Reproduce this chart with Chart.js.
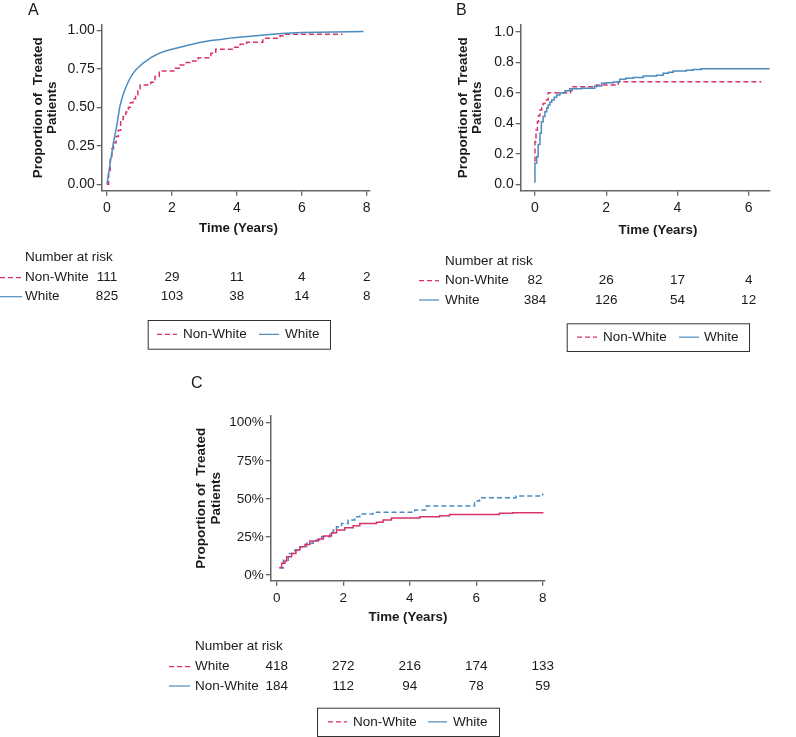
<!DOCTYPE html>
<html><head><meta charset="utf-8">
<script src="https://cdn.jsdelivr.net/npm/chart.js@4.4.1/dist/chart.umd.min.js"></script>
<style>
html,body{margin:0;padding:0;background:#fff;}
#wrap{position:relative;width:796px;height:737px;overflow:hidden;}
canvas{position:absolute;left:0;top:0;pointer-events:none;}
</style></head><body>
<div id="wrap">
<canvas id="cA" width="796" height="737"></canvas>
<canvas id="cB" width="796" height="737"></canvas>
<canvas id="cC" width="796" height="737"></canvas>
</div>
<script>
// ---------- Panel A ----------
const aWhiteT   = [0, 0.1, 0.2, 0.3, 0.4, 0.5, 0.6, 0.7, 0.8, 0.9, 1.0, 1.1, 1.2, 1.4, 1.6, 1.8, 2.0, 2.25, 2.5, 2.85, 3.2, 3.5, 3.9, 4.5, 5.1, 5.5, 6.0, 7.0, 7.9];
const aWhiteP   = [0, 0.14, 0.27, 0.38, 0.51, 0.585, 0.64, 0.685, 0.72, 0.745, 0.765, 0.785, 0.8, 0.828, 0.85, 0.865, 0.876, 0.89, 0.902, 0.92, 0.933, 0.94, 0.952, 0.963, 0.974, 0.98, 0.985, 0.989, 0.991];
const aNonWhiteT = [0, 0.05, 0.1, 0.15, 0.2, 0.28, 0.35, 0.42, 0.5, 0.58, 0.66, 0.72, 0.8, 0.88, 0.95, 1.02, 1.35, 1.48, 1.61, 2.1, 2.25, 2.4, 2.56, 2.81, 3.2, 3.35, 3.9, 4.1, 4.3, 4.8, 5.33, 5.43, 7.25];
const aNonWhiteP = [0, 0.09, 0.18, 0.23, 0.27, 0.31, 0.35, 0.42, 0.44, 0.47, 0.5, 0.53, 0.555, 0.58, 0.62, 0.645, 0.662, 0.70, 0.736, 0.753, 0.775, 0.79, 0.80, 0.822, 0.85, 0.877, 0.89, 0.909, 0.922, 0.948, 0.965, 0.974, 0.974];
const aXTicks = [0, 2, 4, 6, 8];
const aYTicks = [0, 0.25, 0.5, 0.75, 1];
const aYTickLabels = ['0.00', '0.25', '0.50', '0.75', '1.00'];
const aRiskNonWhite = [111, 29, 11, 4, 2];
const aRiskWhite = [825, 103, 38, 14, 8];

// ---------- Panel B ----------
const bWhiteT = [0, 0, 0.05, 0.09, 0.14, 0.18, 0.23, 0.28, 0.33, 0.37, 0.42, 0.47, 0.54, 0.61, 0.7, 0.84, 0.98, 1.31, 1.68, 1.87, 2.0, 2.2, 2.38, 2.55, 2.76, 3.04, 3.41, 3.6, 3.75, 3.88, 4.25, 4.44, 4.67, 6.59];
const bWhiteP = [0.01, 0.138, 0.18, 0.26, 0.334, 0.41, 0.445, 0.476, 0.50, 0.52, 0.537, 0.552, 0.57, 0.585, 0.598, 0.613, 0.626, 0.63, 0.644, 0.662, 0.665, 0.67, 0.688, 0.695, 0.70, 0.71, 0.714, 0.727, 0.735, 0.742, 0.747, 0.753, 0.758, 0.758];
const bNonWhiteT = [0, 0, 0.03, 0.07, 0.1, 0.14, 0.19, 0.23, 0.28, 0.37, 1.0, 1.07, 1.73, 2.34, 6.36];
const bNonWhiteP = [0.15, 0.28, 0.356, 0.41, 0.45, 0.487, 0.51, 0.53, 0.552, 0.60, 0.615, 0.64, 0.65, 0.672, 0.672];
const bXTicks = [0, 2, 4, 6];
const bYTicks = [0, 0.2, 0.4, 0.6, 0.8, 1];
const bYTickLabels = ['0.0', '0.2', '0.4', '0.6', '0.8', '1.0'];
const bRiskNonWhite = [82, 26, 17, 4];
const bRiskWhite = [384, 126, 54, 12];

// ---------- Panel C ----------
const cSolidT = [0.08, 0.15, 0.25, 0.3, 0.45, 0.58, 0.7, 0.85, 1.0, 1.25, 1.4, 1.65, 1.8, 2.05, 2.3, 2.5, 3.0, 3.2, 3.45, 4.3, 4.9, 5.2, 6.7, 7.1, 8.0];
const cSolidP = [5.0, 7.7, 9.2, 12, 14.2, 16.4, 18.6, 20.1, 22.3, 23.6, 25.6, 27.8, 29.5, 31.1, 32.4, 33.9, 34.6, 36.1, 37.4, 38.3, 38.9, 39.8, 40.5, 40.9, 41.4];
const cDashT = [0.08, 0.2, 0.35, 0.55, 0.7, 0.9, 1.1, 1.35, 1.6, 1.7, 1.8, 1.95, 2.15, 2.35, 2.5, 2.9, 4.15, 4.5, 5.95, 6.1, 7.2, 8.0];
const cDashP = [4.6, 9.8, 14.2, 16.4, 18.6, 20.8, 23, 25.2, 27.4, 29.5, 31.7, 33.9, 36.1, 38.3, 40, 41.2, 42.7, 45.3, 48.6, 50.8, 51.9, 53.6];
const cXTicks = [0, 2, 4, 6, 8];
const cYTicks = [0, 25, 50, 75, 100];
const cYTickLabels = ['0%', '25%', '50%', '75%', '100%'];
const cRiskWhite = [418, 272, 216, 174, 133];
const cRiskNonWhite = [184, 112, 94, 78, 59];

// ---------- Styles ----------
const FONT = '"Liberation Sans", Arial, Helvetica, sans-serif';
const BLUE = '#4a8cc0';
const RED = '#d8336c';
const AXIS = '#666666';
const TEXT = '#1a1a1a';
const DASH = [5, 3];

function pts(t, p) { return t.map((x, i) => ({ x: x, y: p[i] })); }

const extras = {
  id: 'extras',
  afterDraw(chart, args, o) {
    const ctx = chart.ctx;
    const xs = chart.scales.x;
    ctx.save();
    ctx.fillStyle = TEXT;
    // panel letter
    ctx.font = '16px ' + FONT;
    ctx.textAlign = 'left';
    ctx.textBaseline = 'alphabetic';
    ctx.fillText(o.panel.text, o.panel.x, o.panel.y);
    // x axis title
    ctx.font = 'bold 13.3px ' + FONT;
    ctx.textAlign = 'center';
    ctx.textBaseline = 'middle';
    ctx.fillText(o.xTitle.text, o.xTitle.x, o.xTitle.y);
    // risk table
    const r = o.risk;
    ctx.font = '13.5px ' + FONT;
    ctx.textAlign = 'left';
    ctx.fillText('Number at risk', r.labelX, r.headerY);
    r.rows.forEach(row => {
      ctx.strokeStyle = row.color;
      ctx.lineWidth = 1.2;
      ctx.setLineDash(row.dash);
      ctx.beginPath();
      ctx.moveTo(r.lineX0, row.y);
      ctx.lineTo(r.lineX1, row.y);
      ctx.stroke();
      ctx.setLineDash([]);
      ctx.textAlign = 'left';
      ctx.fillText(row.label, r.labelX, row.y);
      ctx.textAlign = 'center';
      row.values.forEach((v, i) => {
        ctx.fillText(String(v), xs.getPixelForValue(r.times[i]), row.y);
      });
    });
    // legend box
    const L = o.legend;
    ctx.strokeStyle = '#333';
    ctx.lineWidth = 1;
    ctx.setLineDash([]);
    ctx.strokeRect(L.x0 + 0.5, L.y0 + 0.5, L.x1 - L.x0, L.y1 - L.y0);
    const cy = (L.y0 + L.y1) / 2;
    ctx.textAlign = 'left';
    L.items.forEach(it => {
      ctx.strokeStyle = it.color;
      ctx.lineWidth = 1.2;
      ctx.setLineDash(it.dash);
      ctx.beginPath();
      ctx.moveTo(it.lx0, cy);
      ctx.lineTo(it.lx1, cy);
      ctx.stroke();
      ctx.setLineDash([]);
      ctx.fillText(it.text, it.tx, cy);
    });
    ctx.restore();
  }
};

function makeChart(id, cfg) {
  const tickFont = { family: FONT, size: cfg.tickSize };
  return new Chart(document.getElementById(id), {
    type: 'line',
    data: { datasets: cfg.datasets },
    plugins: [extras],
    options: {
      responsive: false,
      animation: false,
      events: [],
      layout: { padding: cfg.padding },
      plugins: { legend: { display: false }, tooltip: { enabled: false }, extras: cfg.extras },
      elements: { point: { radius: 0 }, line: { borderWidth: 1.5 } },
      scales: {
        x: {
          type: 'linear', min: cfg.xMin, max: cfg.xMax,
          afterBuildTicks: s => { s.ticks = cfg.xTicks.map(v => ({ value: v })); },
          afterFit: s => { s.height = 30; },
          ticks: { font: tickFont, color: TEXT, padding: 4, callback: v => String(v), maxRotation: 0 },
          grid: { display: true, drawOnChartArea: false, drawTicks: true, tickLength: 5, color: AXIS, lineWidth: 1.3 },
          border: { display: true, color: AXIS, width: 1.5 }
        },
        y: {
          type: 'linear', min: cfg.yMin, max: cfg.yMax,
          afterBuildTicks: s => { s.ticks = cfg.yTicks.map(v => ({ value: v })); },
          afterFit: s => { s.width = cfg.yWidth; },
          ticks: { font: tickFont, color: TEXT, padding: 2, callback: v => cfg.yTickLabels[cfg.yTicks.indexOf(v)] },
          grid: { display: true, drawOnChartArea: false, drawTicks: true, tickLength: 5, color: AXIS, lineWidth: 1.3 },
          border: { display: true, color: AXIS, width: 1.5 },
          title: { display: true, text: ['Proportion of  Treated', 'Patients'], color: TEXT, padding: 0,
                   font: { family: FONT, size: 13.5, weight: 'bold', lineHeight: '14.5px' } }
        }
      }
    }
  });
}

// Panel A
makeChart('cA', {
  datasets: [
    { label: 'White', data: pts(aWhiteT, aWhiteP), borderColor: BLUE, stepped: false, tension: 0 },
    { label: 'Non-White', data: pts(aNonWhiteT, aNonWhiteP), borderColor: RED, borderDash: DASH, stepped: true }
  ],
  padding: { left: 30.75, right: 426, top: 25, bottom: 516.3 },
  yWidth: 70.95, xMin: -0.163, xMax: 8.1, yMin: -0.0416, yMax: 1.034,
  xTicks: aXTicks, yTicks: aYTicks, yTickLabels: aYTickLabels, tickSize: 14,
  extras: {
    panel: { text: 'A', x: 28, y: 15 },
    xTitle: { text: 'Time (Years)', x: 238.5, y: 228 },
    risk: { labelX: 25, headerY: 257, lineX0: 0, lineX1: 22, times: aXTicks,
      rows: [
        { label: 'Non-White', values: aRiskNonWhite, y: 277.7, color: RED, dash: DASH },
        { label: 'White', values: aRiskWhite, y: 296.7, color: BLUE, dash: [] }
      ] },
    legend: { x0: 147.7, x1: 330, y0: 320, y1: 348.7,
      items: [
        { text: 'Non-White', color: RED, dash: DASH, lx0: 157, lx1: 177, tx: 183 },
        { text: 'White', color: BLUE, dash: [], lx0: 259, lx1: 279, tx: 285 }
      ] }
  }
});

// Panel B
makeChart('cB', {
  datasets: [
    { label: 'White', data: pts(bWhiteT, bWhiteP), borderColor: BLUE, stepped: true },
    { label: 'Non-White', data: pts(bNonWhiteT, bNonWhiteP), borderColor: RED, borderDash: DASH, stepped: true }
  ],
  padding: { left: 455.75, right: 26, top: 25, bottom: 516.3 },
  yWidth: 64.95, xMin: -0.40, xMax: 6.6, yMin: -0.042, yMax: 1.044,
  xTicks: bXTicks, yTicks: bYTicks, yTickLabels: bYTickLabels, tickSize: 14,
  extras: {
    panel: { text: 'B', x: 456, y: 15 },
    xTitle: { text: 'Time (Years)', x: 658, y: 230 },
    risk: { labelX: 445, headerY: 261, lineX0: 419, lineX1: 439, times: bXTicks,
      rows: [
        { label: 'Non-White', values: bRiskNonWhite, y: 280.7, color: RED, dash: DASH },
        { label: 'White', values: bRiskWhite, y: 300, color: BLUE, dash: [] }
      ] },
    legend: { x0: 566.7, x1: 749, y0: 323.3, y1: 351,
      items: [
        { text: 'Non-White', color: RED, dash: DASH, lx0: 577, lx1: 597, tx: 603 },
        { text: 'White', color: BLUE, dash: [], lx0: 679, lx1: 699, tx: 704 }
      ] }
  }
});

// Panel C
makeChart('cC', {
  datasets: [
    { label: 'Non-White', data: pts(cSolidT, cSolidP), borderColor: RED, stepped: true },
    { label: 'White', data: pts(cDashT, cDashP), borderColor: BLUE, borderDash: DASH, stepped: true }
  ],
  padding: { left: 194.45, right: 251, top: 416, bottom: 126.3 },
  yWidth: 76.25, xMin: -0.18, xMax: 8.07, yMin: -3.7, yMax: 104.4,
  xTicks: cXTicks, yTicks: cYTicks, yTickLabels: cYTickLabels, tickSize: 13.5,
  extras: {
    panel: { text: 'C', x: 191, y: 387.5 },
    xTitle: { text: 'Time (Years)', x: 408, y: 617 },
    risk: { labelX: 195, headerY: 646.7, lineX0: 169, lineX1: 190, times: cXTicks,
      rows: [
        { label: 'White', values: cRiskWhite, y: 666.7, color: RED, dash: DASH },
        { label: 'Non-White', values: cRiskNonWhite, y: 686, color: BLUE, dash: [] }
      ] },
    legend: { x0: 317, x1: 499, y0: 707.7, y1: 736,
      items: [
        { text: 'Non-White', color: RED, dash: DASH, lx0: 328, lx1: 347, tx: 353 },
        { text: 'White', color: BLUE, dash: [], lx0: 428, lx1: 447, tx: 453 }
      ] }
  }
});
</script>
</body></html>
